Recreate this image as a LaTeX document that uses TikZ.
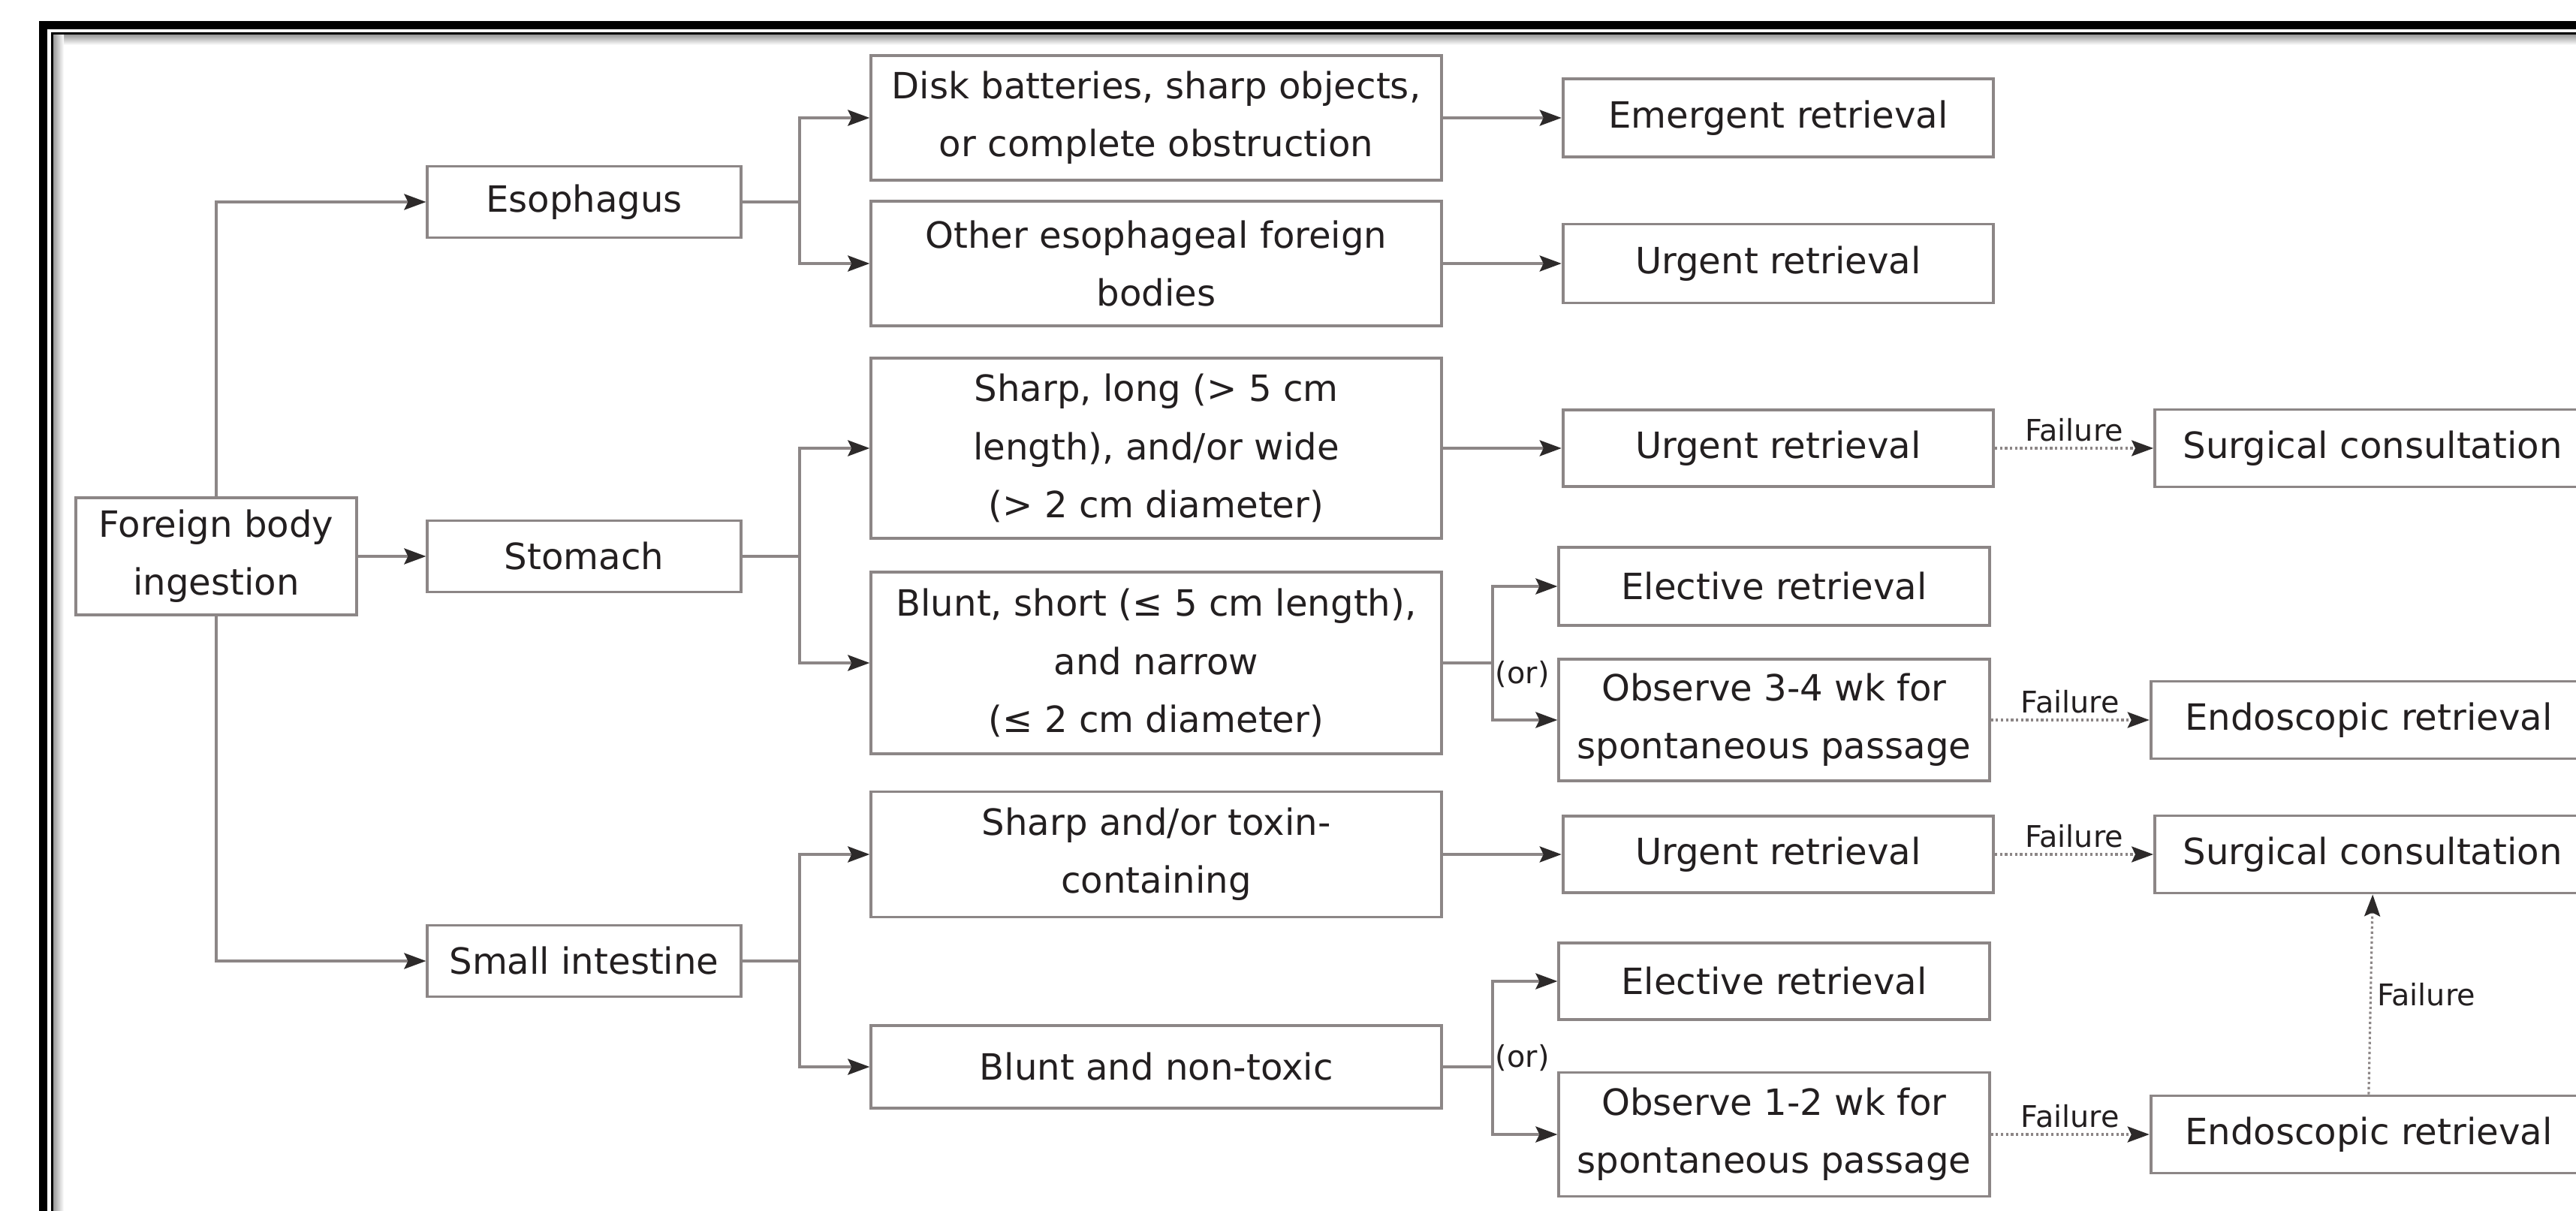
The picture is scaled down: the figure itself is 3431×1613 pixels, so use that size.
\documentclass[tikz,border=0pt]{standalone}
\usepackage{fontspec}
\setmainfont{DejaVu Sans}
\usepackage{xcolor}
\usepackage{tikz}
\usetikzlibrary{arrows.meta,positioning,calc}

\definecolor{boxgray}{RGB}{140,134,134}
\definecolor{tipgray}{RGB}{45,42,42}
\definecolor{txtdark}{RGB}{35,31,32}
\newcommand{\boxfont}{\fontsize{13.7pt}{22pt}\selectfont}
\newcommand{\labfont}{\fontsize{11.3pt}{13pt}\selectfont}

\begin{document}
\begin{tikzpicture}[x=0.01cm, y=-0.01cm,
  box/.style={draw=boxgray, line width=1.1pt, fill=white, align=center, inner sep=0pt, text=txtdark, font=\boxfont},
  c2/.style={box, minimum width=4.17cm, minimum height=0.95cm},
  c3/.style={box, minimum width=7.59cm},
  c4/.style={box, minimum width=5.73cm},
  c5/.style={box, minimum width=5.8cm, minimum height=1.03cm},
  a/.style={draw=boxgray, line width=1.1pt, -{Stealth[length=2.9mm,width=2.1mm,inset=0.5mm,color=tipgray]}},
  ln/.style={draw=boxgray, line width=1.1pt},
  fa/.style={a, line width=0.9pt, densely dotted},
  fl/.style={font=\labfont, text=txtdark, inner sep=2pt},
  orl/.style={font=\labfont, text=txtdark, inner sep=1pt, anchor=west}
]
\useasboundingbox (0,0) rectangle (3431,1613);
\clip (0,0) rectangle (3431,1613);

% frame
\shade[top color=black!40, bottom color=white] (69,46) rectangle (3500,60);
\shade[left color=black!40, right color=white] (71,46) rectangle (85,1700);
\draw[line width=0.11cm] (3500,33.5) -- (57.5,33.5) -- (57.5,1700);
\draw[line width=0.03cm] (3500,44.5) -- (69,44.5) -- (69,1700);

% sites
\node[box, minimum width=3.73cm, minimum height=1.56cm] (fbi) at (288,741) {Foreign body\\ingestion};
\node[c2] (eso) at (778,269) {Esophagus};
\node[c2] (sto) at (778,741) {Stomach};
\node[c2] (smi) at (778,1280) {Small intestine};

% object types
\node[c3, minimum height=1.66cm] (disk) at (1540,157) {Disk batteries, sharp objects,\\or complete obstruction};
\node[c3, minimum height=1.66cm] (oth) at (1540,351) {Other esophageal foreign\\bodies};
\node[c3, minimum height=2.4cm] (shl) at (1540,597) {Sharp, long (> 5 cm\\length), and/or wide\\(> 2 cm diameter)};
\node[c3, minimum height=2.42cm] (bls) at (1540,883) {Blunt, short (≤ 5 cm length),\\and narrow\\(≤ 2 cm diameter)};
\node[c3, minimum height=1.67cm] (sht) at (1540,1138) {Sharp and/or toxin-\\containing};
\node[c3, minimum height=1.1cm] (bnt) at (1540,1421) {Blunt and non-toxic};

% management
\node[c4, minimum height=1.04cm, right=1.58cm of disk] (emr) {Emergent retrieval};
\node[c4, minimum height=1.05cm, right=1.58cm of oth] (urg1) {Urgent retrieval};
\node[c4, minimum height=1.02cm, right=1.58cm of shl] (urg2) {Urgent retrieval};
\node[c4, minimum height=1.04cm] (ele1) at (2363,781) {Elective retrieval};
\node[c4, minimum height=1.62cm] (obs1) at (2363,959) {Observe 3-4 wk for\\spontaneous passage};
\node[c4, minimum height=1.02cm, right=1.58cm of sht] (urg3) {Urgent retrieval};
\node[c4, minimum height=1.02cm] (ele2) at (2363,1307) {Elective retrieval};
\node[c4, minimum height=1.65cm] (obs2) at (2363,1511) {Observe 1-2 wk for\\spontaneous passage};

% after failure
\node[c5, right=2.11cm of urg2] (sur1) {Surgical consultation};
\node[c5, right=2.11cm of obs1] (end1) {Endoscopic retrieval};
\node[c5, right=2.11cm of urg3] (sur2) {Surgical consultation};
\node[c5, right=2.11cm of obs2] (end2) {Endoscopic retrieval};

\draw[a] (fbi.north) |- (eso.west);
\draw[a] (fbi.east) -- (sto.west);
\draw[a] (fbi.south) |- (smi.west);

\coordinate (eb) at ($(eso.east)+(76,0)$);
\coordinate (sb) at ($(sto.east)+(76,0)$);
\coordinate (ib) at ($(smi.east)+(76,0)$);
\draw[ln] (eso.east) -- (eb);
\draw[a] (eb) |- (disk.west);
\draw[a] (eb) |- (oth.west);
\draw[ln] (sto.east) -- (sb);
\draw[a] (sb) |- (shl.west);
\draw[a] (sb) |- (bls.west);
\draw[ln] (smi.east) -- (ib);
\draw[a] (ib) |- (sht.west);
\draw[a] (ib) |- (bnt.west);

\draw[a] (disk.east) -- (emr.west);
\draw[a] (oth.east) -- (urg1.west);
\draw[a] (shl.east) -- (urg2.west);
\draw[a] (sht.east) -- (urg3.west);

\coordinate (bb) at ($(bls.east)+(66,0)$);
\coordinate (nb) at ($(bnt.east)+(66,0)$);
\draw[ln] (bls.east) -- (bb);
\draw[a] (bb) |- (ele1.west);
\draw[a] (bb) |- (obs1.west);
\node[orl, yshift=-0.15cm] (or1) at (bb) {(or)};
\draw[ln] (bnt.east) -- (nb);
\draw[a] (nb) |- (ele2.west);
\draw[a] (nb) |- (obs2.west);
\node[orl, yshift=0.12cm] (or2) at (nb) {(or)};

\draw[fa] (urg2.east) -- node[fl, above] (fl1) {Failure} (sur1.west);
\draw[fa] (obs1.east) -- node[fl, above] (fl2) {Failure} (end1.west);
\draw[fa] (urg3.east) -- node[fl, above] (fl3) {Failure} (sur2.west);
\draw[fa] (obs2.east) -- node[fl, above] (fl4) {Failure} (end2.west);
\draw[fa] (end2.north) -- node[fl, right] (fl5) {Failure} (sur2.south);
\end{tikzpicture}
\end{document}
